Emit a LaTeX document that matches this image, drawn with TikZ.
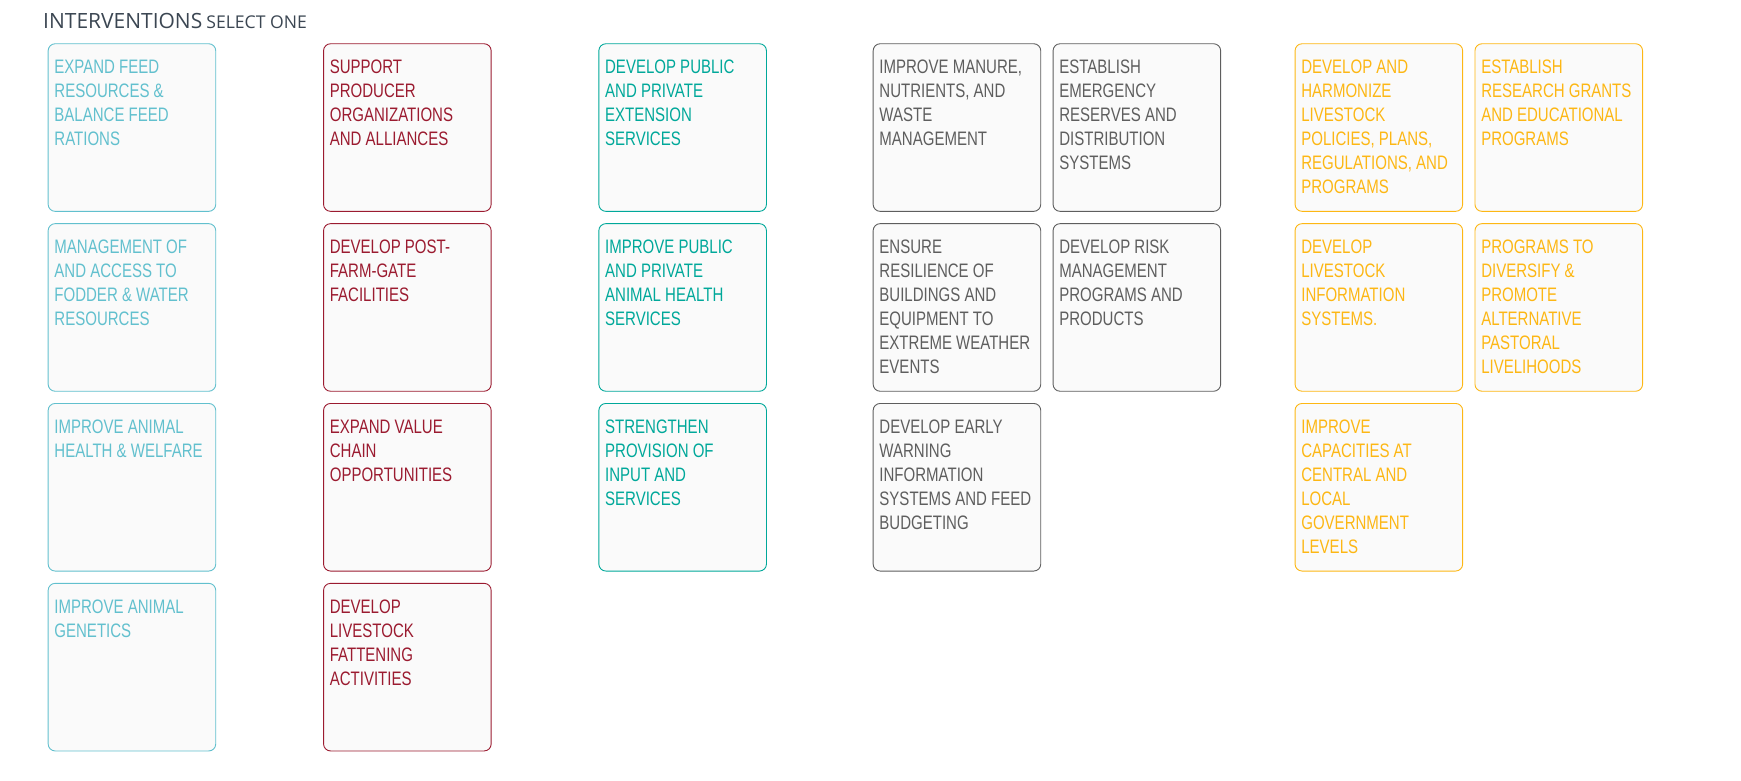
\documentclass[tikz,border=0pt]{standalone}
\usepackage{fontspec}
\setmainfont{Liberation Sans}[FakeStretch=0.77]
\newfontfamily\headfont{Open Sans}
\definecolor{cardbg}{HTML}{FAFAFA}
\definecolor{feedblue}{HTML}{62C0CE}
\definecolor{chainred}{HTML}{9B1B30}
\definecolor{serviceteal}{HTML}{00A89A}
\definecolor{riskgray}{HTML}{5E5E5E}
\definecolor{policyyellow}{HTML}{FDB714}
\definecolor{headgray}{HTML}{3B4652}
\newcommand\cardtext[1]{\parbox[t][141.2pt][t]{155pt}{\raggedright\strut#1}}

\begin{document}
\begin{tikzpicture}[x=1pt,y=-1pt,
  card/.style={draw=#1,text=#1,fill=cardbg,line width=0.9pt,rounded corners=7pt,
    anchor=north west,inner xsep=6.3pt,inner ysep=13.2pt,
    font=\fontsize{19.5}{24}\selectfont}]
  \useasboundingbox (0,0) rectangle (1741,781);
  \node[anchor=base west,inner sep=0pt,text=headgray] (title) at (43,28.3)
    {\headfont\fontsize{21}{25}\selectfont INTERVENTIONS\hspace{4pt}{\fontsize{17.6}{20}\selectfont SELECT ONE}};
  % feed and animal
  \node[card=feedblue] (feed) at (47.7,43.3) {\cardtext{EXPAND FEED\\RESOURCES \&\\BALANCE FEED\\RATIONS}};
  \node[card=feedblue] (fodder) at (47.7,223.2) {\cardtext{MANAGEMENT OF\\AND ACCESS TO\\FODDER \& WATER\\RESOURCES}};
  \node[card=feedblue] (welfare) at (47.7,403.0) {\cardtext{IMPROVE ANIMAL\\HEALTH \& WELFARE}};
  \node[card=feedblue] (genetics) at (47.7,582.9) {\cardtext{IMPROVE ANIMAL\\GENETICS}};
  % value chain
  \node[card=chainred] (producer) at (323.1,43.3) {\cardtext{SUPPORT\\PRODUCER\\ORGANIZATIONS\\AND ALLIANCES}};
  \node[card=chainred] (postfarm) at (323.1,223.2) {\cardtext{DEVELOP POST-\\FARM-GATE\\FACILITIES}};
  \node[card=chainred] (valuechain) at (323.1,403.0) {\cardtext{EXPAND VALUE\\CHAIN\\OPPORTUNITIES}};
  \node[card=chainred] (fattening) at (323.1,582.9) {\cardtext{DEVELOP\\LIVESTOCK\\FATTENING\\ACTIVITIES}};
  % services
  \node[card=serviceteal] (extension) at (598.4,43.3) {\cardtext{DEVELOP PUBLIC\\AND PRIVATE\\EXTENSION\\SERVICES}};
  \node[card=serviceteal] (vetservice) at (598.4,223.2) {\cardtext{IMPROVE PUBLIC\\AND PRIVATE\\ANIMAL HEALTH\\SERVICES}};
  \node[card=serviceteal] (inputs) at (598.4,403.0) {\cardtext{STRENGTHEN\\PROVISION OF\\INPUT AND\\SERVICES}};
  % risk and environment
  \node[card=riskgray] (manure) at (872.7,43.3) {\cardtext{IMPROVE MANURE,\\NUTRIENTS, AND\\WASTE\\MANAGEMENT}};
  \node[card=riskgray] (resilience) at (872.7,223.2) {\cardtext{ENSURE\\RESILIENCE OF\\BUILDINGS AND\\EQUIPMENT TO\\EXTREME WEATHER\\EVENTS}};
  \node[card=riskgray] (warning) at (872.7,403.0) {\cardtext{DEVELOP EARLY\\WARNING\\INFORMATION\\SYSTEMS AND FEED\\BUDGETING}};
  \node[card=riskgray] (reserves) at (1052.6,43.3) {\cardtext{ESTABLISH\\EMERGENCY\\RESERVES AND\\DISTRIBUTION\\SYSTEMS}};
  \node[card=riskgray] (riskmgmt) at (1052.6,223.2) {\cardtext{DEVELOP RISK\\MANAGEMENT\\PROGRAMS AND\\PRODUCTS}};
  % policy and institutions
  \node[card=policyyellow] (policies) at (1294.6,43.3) {\cardtext{DEVELOP AND\\HARMONIZE\\LIVESTOCK\\POLICIES, PLANS,\\REGULATIONS, AND\\PROGRAMS}};
  \node[card=policyyellow] (infosys) at (1294.6,223.2) {\cardtext{DEVELOP\\LIVESTOCK\\INFORMATION\\SYSTEMS.}};
  \node[card=policyyellow] (capacities) at (1294.6,403.0) {\cardtext{IMPROVE\\CAPACITIES AT\\CENTRAL AND\\LOCAL\\GOVERNMENT\\LEVELS}};
  \node[card=policyyellow] (research) at (1474.5,43.3) {\cardtext{ESTABLISH\\RESEARCH GRANTS\\AND EDUCATIONAL\\PROGRAMS}};
  \node[card=policyyellow] (pastoral) at (1474.5,223.2) {\cardtext{PROGRAMS TO\\DIVERSIFY \&\\PROMOTE\\ALTERNATIVE\\PASTORAL\\LIVELIHOODS}};
\end{tikzpicture}
\end{document}
